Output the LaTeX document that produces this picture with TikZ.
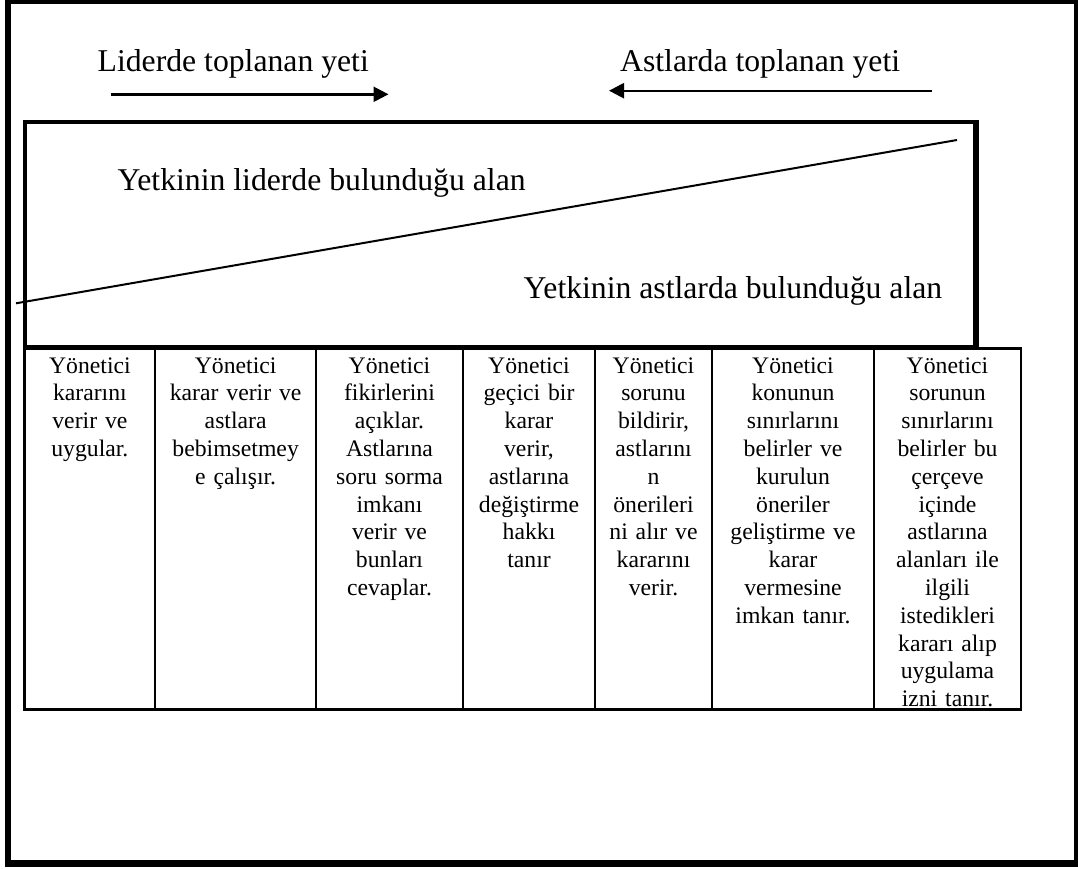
\documentclass[tikz,border=0pt]{standalone}
\usepackage{fontspec}
\setmainfont{Liberation Serif}
\usetikzlibrary{arrows.meta}
\begin{document}
\begin{tikzpicture}[x=1pt,y=-1pt,
  bigtext/.style={font=\fontsize{31.7}{38}\selectfont, inner sep=0pt, anchor=base west},
  celltext/.style={font=\fontsize{23.7}{27.8}\selectfont, inner sep=0pt, anchor=base, align=center, text width=#1},
  tablerule/.style={line width=2.2pt},
  arr/.style={line width=2.4pt, -{Triangle[length=15pt,width=15pt]}}
]
\useasboundingbox (0,0) rectangle (1078,868);
% outer frame
\draw[line width=6.5pt] (8,1) rectangle (1077,863.5);
% titles and arrows
\node[bigtext] (tl) at (97.5,71) {Liderde toplanan yeti};
\node[bigtext] (tr) at (620,71) {Astlarda toplanan yeti};
\coordinate (la1) at (111,94.3);
\coordinate (la2) at (388.5,94.3);
\coordinate (ra1) at (932,90.7);
\coordinate (ra2) at (609,90.7);
\draw[arr] (la1) -- (la2);
\draw[arr] (ra1) -- (ra2);
% upper box
\draw[line width=4pt] (24.5,122) rectangle (974.5,347);
\draw[line width=1.3pt] (978,120) -- (978,347);
\coordinate (d1) at (16,303.3);
\coordinate (d2) at (957,140);
\draw[line width=2pt] (d1) -- (d2);
\node[bigtext] (up) at (117.5,190) {Yetkinin liderde bulunduğu alan};
\node[bigtext] (lo) at (523.5,298) {Yetkinin astlarda bulunduğu alan};
% table
\draw[tablerule] (24.5,348.5) rectangle (1021,709.5);
\foreach \xx in {155.3,316,463,595,712,874}
  \draw[tablerule] (\xx,348.5) -- (\xx,709.5);
\node[celltext=124pt] (c1) at (89.9,373) {Yönetici\\kararını\\verir ve\\uygular.};
\node[celltext=155pt] (c2) at (235.65,373) {Yönetici\\karar verir ve\\astlara\\bebimsetmey\\e çalışır.};
\node[celltext=141pt] (c3) at (389.5,373) {Yönetici\\fikirlerini\\açıklar.\\Astlarına\\soru sorma\\imkanı\\verir ve\\bunları\\cevaplar.};
\node[celltext=126pt] (c4) at (529,373) {Yönetici\\geçici bir\\karar\\verir,\\astlarına\\değiştirme\\hakkı\\tanır};
\node[celltext=111pt] (c5) at (653.5,373) {Yönetici\\sorunu\\bildirir,\\astlarını\\n\\önerileri\\ni alır ve\\kararını\\verir.};
\node[celltext=156pt] (c6) at (793,373) {Yönetici\\konunun\\sınırlarını\\belirler ve\\kurulun\\öneriler\\geliştirme ve\\karar\\vermesine\\imkan tanır.};
\node[celltext=140pt] (c7) at (947.5,373) {Yönetici\\sorunun\\sınırlarını\\belirler bu\\çerçeve\\içinde\\astlarına\\alanları ile\\ilgili\\istedikleri\\kararı alıp\\uygulama\\izni tanır.};
\end{tikzpicture}
\end{document}
